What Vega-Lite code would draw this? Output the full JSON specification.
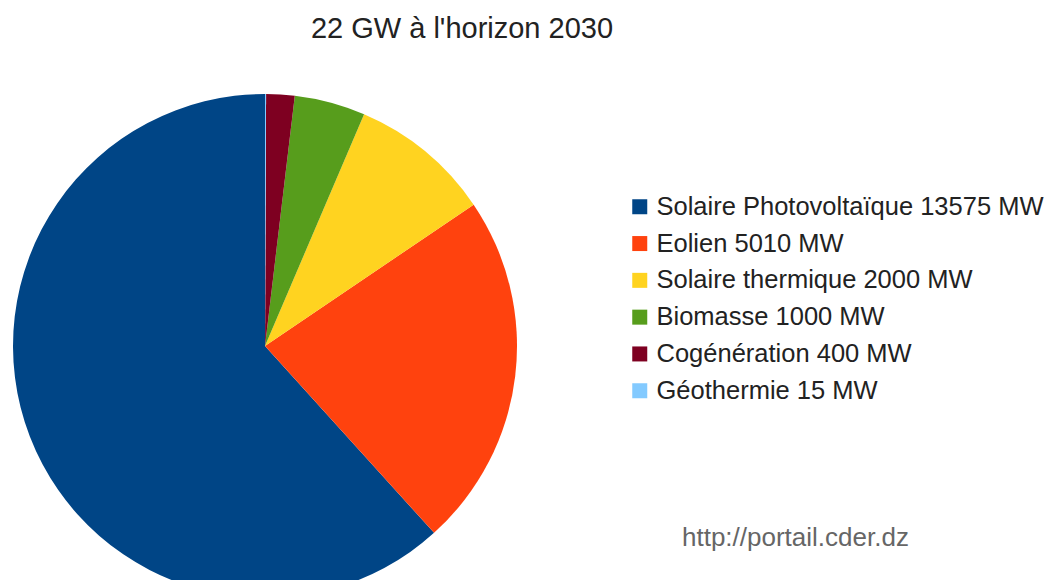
{
  "$schema": "https://vega.github.io/schema/vega-lite/v6.json",
  "autosize": {"type": "none"},
  "padding": {"left": 0, "top": 112, "right": 526, "bottom": 0},
  "width": 530,
  "height": 468,
  "background": "white",
  "title": {
    "text": "22 GW à l'horizon 2030",
    "anchor": "middle",
    "frame": "group",
    "dx": 197,
    "offset": 50,
    "font": "Liberation Sans",
    "fontSize": 29,
    "fontWeight": "normal",
    "color": "#222222"
  },
  "data": {
    "values": [
      {"source": "Solaire Photovoltaïque", "MW": 13575, "label": "Solaire Photovoltaïque 13575 MW"},
      {"source": "Eolien", "MW": 5010, "label": "Eolien 5010 MW"},
      {"source": "Solaire thermique", "MW": 2000, "label": "Solaire thermique 2000 MW"},
      {"source": "Biomasse", "MW": 1000, "label": "Biomasse 1000 MW"},
      {"source": "Cogénération", "MW": 400, "label": "Cogénération 400 MW"},
      {"source": "Géothermie", "MW": 15, "label": "Géothermie 15 MW"}
    ]
  },
  "mark": {"type": "arc", "radius": 252, "strokeWidth": 0},
  "encoding": {
    "theta": {"field": "MW", "type": "quantitative", "stack": true},
    "order": {"field": "MW", "type": "quantitative", "sort": "ascending"},
    "color": {
      "field": "label",
      "type": "nominal",
      "sort": null,
      "scale": {
        "domain": [
          "Solaire Photovoltaïque 13575 MW",
          "Eolien 5010 MW",
          "Solaire thermique 2000 MW",
          "Biomasse 1000 MW",
          "Cogénération 400 MW",
          "Géothermie 15 MW"
        ],
        "range": ["#004586", "#ff420e", "#ffd320", "#579d1c", "#7e0021", "#83caff"]
      },
      "legend": {
        "orient": "none",
        "legendX": 627,
        "legendY": 82,
        "padding": 0,
        "symbolType": "square",
        "symbolSize": 225,
        "symbolStrokeWidth": 0,
        "labelFont": "Liberation Sans",
        "labelFontSize": 25.5,
        "labelColor": "#222222",
        "labelOffset": 4,
        "labelLimit": 600,
        "rowPadding": 9.8,
        "title": "http://portail.cder.dz",
        "titleOrient": "bottom",
        "titleAnchor": "start",
        "titlePadding": 121,
        "titleFont": "Liberation Sans",
        "titleFontSize": 26,
        "titleFontWeight": "normal",
        "titleColor": "#666666",
        "titleLimit": 600,
        "encode": {"title": {"update": {"dx": {"value": 55}}}}
      }
    }
  },
  "config": {"view": {"stroke": null}}
}
